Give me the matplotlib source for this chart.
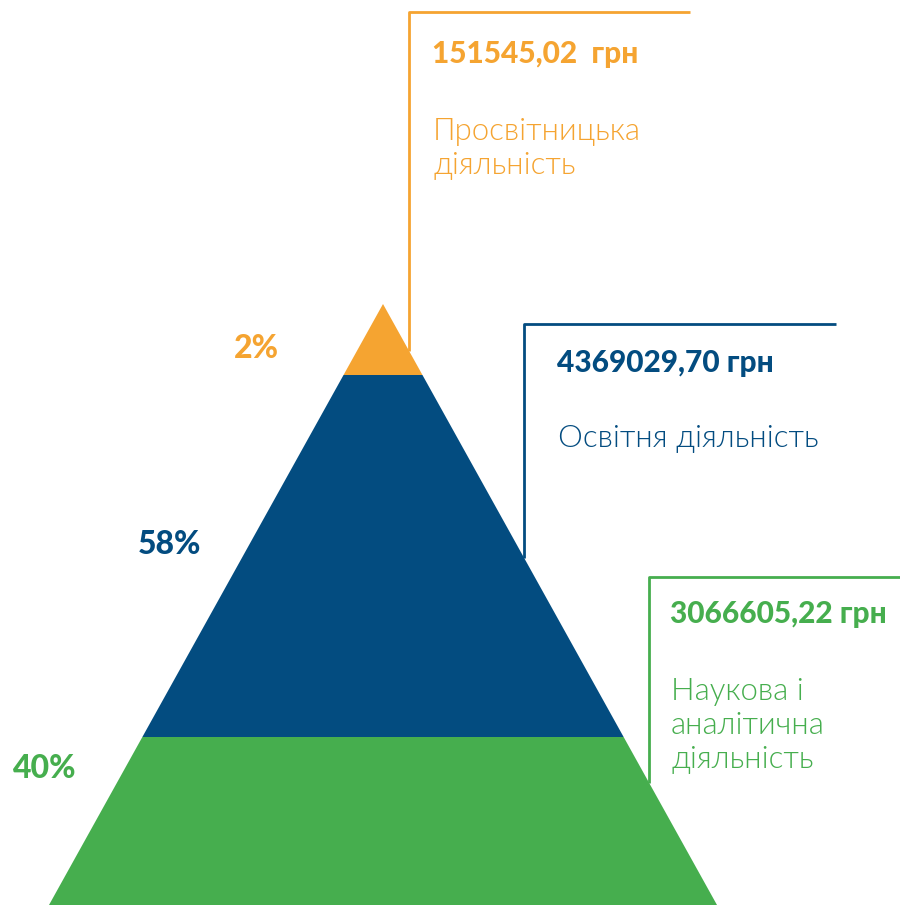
import matplotlib.pyplot as plt
from matplotlib.patches import Polygon

plt.rcParams['font.family'] = ['Lato', 'Open Sans', 'DejaVu Sans']

# Дані
shares = [2, 58, 40]
amounts = ['151545,02  грн', '4369029,70 грн', '3066605,22 грн']
names = [['Просвітницька', 'діяльність'],
         ['Освітня діяльність'],
         ['Наукова і', 'аналітична', 'діяльність']]
colors = ['#F5A431', '#034C80', '#46AE4E']

# Розміщення (пікселі)
apex_x, apex_y = 383, 304
base_y, half_base = 905, 334
band_edges = [304, 375, 737, 905]
pct_pos = [(256, 348), (169, 544), (45, 768)]
box_x = [409, 524, 649]
box_top = [12, 324, 577]
box_right = [690, 836, 900]
text_x = [432, 557, 670]
amount_base = [63, 372, 623]
name_base = [140, 447, 700]
line_step = 34

fig = plt.figure(figsize=(9, 9.05), dpi=100)
ax = fig.add_axes([0, 0, 1, 1])
ax.set_xlim(0, 900)
ax.set_ylim(905, 0)
ax.axis('off')


def half_width(y):
    return half_base * (y - apex_y) / (base_y - apex_y)


# Шари піраміди
for i in range(3):
    y0, y1 = band_edges[i], band_edges[i + 1]
    pts = [(apex_x - half_width(y0), y0), (apex_x + half_width(y0), y0),
           (apex_x + half_width(y1), y1), (apex_x - half_width(y1), y1)]
    ax.add_patch(Polygon(pts, closed=True, facecolor=colors[i],
                         edgecolor='none', zorder=3))
    ax.text(pct_pos[i][0], pct_pos[i][1], f'{shares[i]}%', color=colors[i],
            fontsize=23, fontweight=900, ha='center', va='center')

# Рамки з підписами
for i in range(3):
    x = box_x[i]
    y_end = apex_y + (x - apex_x) * (base_y - apex_y) / half_base
    ax.plot([x, x, box_right[i]], [y_end, box_top[i], box_top[i]],
            color=colors[i], lw=2, solid_capstyle='butt', zorder=2)
    ax.text(text_x[i], amount_base[i], amounts[i], color=colors[i],
            fontsize=21.5, fontweight=900, ha='left', va='baseline')
    for j, line in enumerate(names[i]):
        ax.text(text_x[i] + 1, name_base[i] + j * line_step, line,
                color=colors[i], fontsize=22.5, fontweight=300,
                ha='left', va='baseline')

fig.savefig('out.png', dpi=100)
